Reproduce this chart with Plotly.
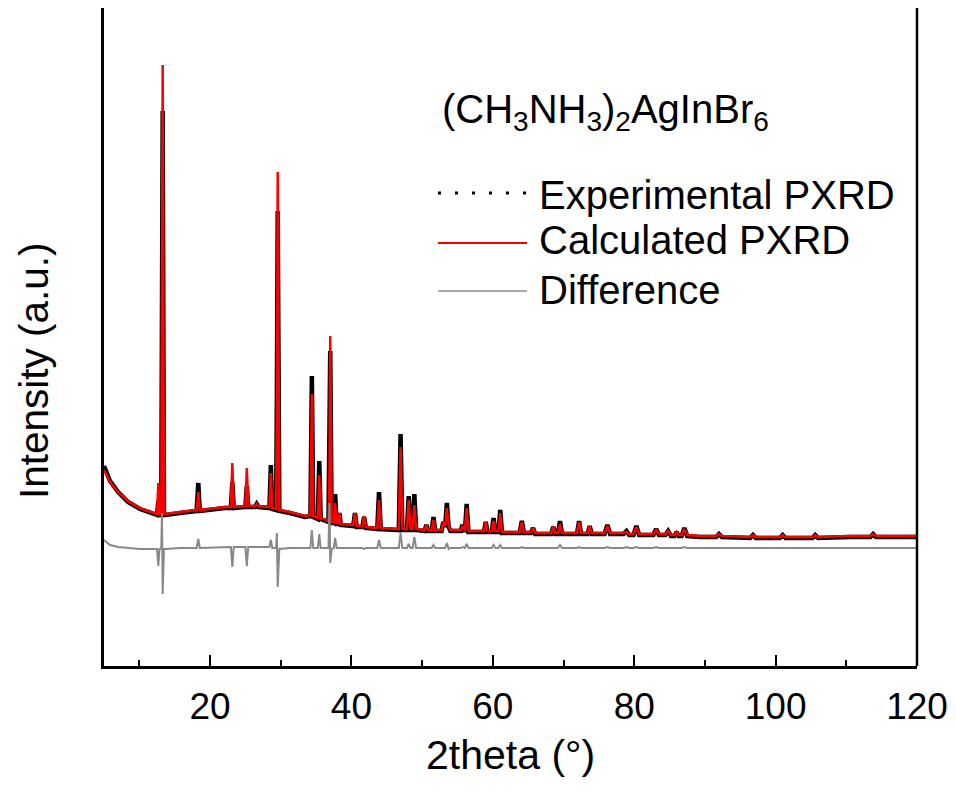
import plotly.graph_objects as go

# PXRD of (CH3NH3)2AgInBr6 (arbitrary units)
two_theta = [
    5.0, 5.85, 7.0, 8.4, 10.1, 11.9, 12.5,
    12.68, 12.85, 13.1, 13.2, 13.3, 13.48, 13.7, 15.75,
    18.1, 18.34, 18.55, 22.1, 22.95, 23.15, 23.35,
    25.0, 25.2, 25.4, 26.35, 26.6, 26.85,
    28.4, 28.6, 28.8, 29.35, 29.45, 29.57, 29.8, 31.3, 33.4,
    34.2, 34.4, 34.6, 35.25, 35.45, 35.65,
    36.75, 36.9, 37.0, 37.2, 37.5, 37.7, 37.9, 38.1, 38.3, 38.5,
    40.25, 40.5, 40.75, 41.55, 41.8, 42.05, 43.65, 43.9, 44.15,
    46.7, 46.95, 47.2, 47.85, 48.1, 48.35, 48.65, 48.9, 49.15,
    50.35, 50.6, 50.85, 51.35, 51.6, 51.85,
    52.75, 53.0, 53.25, 53.5, 53.75, 54.0,
    55.45, 55.7, 55.95, 56.05, 56.3, 56.55,
    58.75, 59.0, 59.25, 59.85, 60.1, 60.35, 60.8, 61.05, 61.3,
    63.8, 64.1, 64.4, 65.4, 65.7, 66.0,
    68.25, 68.55, 68.85, 69.2, 69.5, 69.8,
    71.9, 72.2, 72.5, 73.4, 73.7, 74.0, 75.8, 76.2, 76.6,
    78.5, 78.9, 79.3, 79.9, 80.3, 80.7, 82.7, 83.1, 83.5,
    84.4, 84.8, 85.2, 85.7, 86.0, 86.3, 86.7, 87.1, 87.5,
    89.3, 91.6, 92.0, 92.4, 96.4, 96.8, 97.2,
    100.6, 101.0, 101.4, 103.4, 105.2, 105.6, 106.0,
    110.5, 113.4, 113.8, 114.2, 120.0,
]
calculated = [
    196, 184, 174, 165, 158, 153, 152,
    183, 152, 152, 300, 601, 152, 152, 154,
    156, 174, 156, 159, 159, 203, 159,
    160, 198, 160, 160, 162, 160,
    159, 193, 158, 157, 250, 494, 156, 154, 150,
    151, 272, 150, 148, 191, 148,
    145, 200, 330, 144, 144, 163, 143, 143, 153, 142,
    141, 153, 140, 140, 150, 139, 138, 166, 138,
    137, 219, 137, 137, 166, 137, 137, 161, 137,
    136, 141, 136, 136, 146, 136,
    136, 144, 140, 158, 140, 136,
    136, 140, 135, 135, 158, 135,
    135, 144, 135, 135, 145, 135, 135, 153, 134,
    134, 144, 134, 134, 138, 133,
    133, 139, 133, 133, 142, 133,
    133, 144, 133, 133, 140, 133, 133, 140, 133,
    133, 134, 132, 132, 139, 132, 132, 136, 132,
    132, 135, 131, 131, 134, 131, 131, 137, 131,
    130, 130, 132, 130, 129, 131, 129,
    129, 131, 129, 129, 129, 131, 129,
    130, 130, 132, 130, 130,
]
experimental = [
    200, 185, 174, 164, 157, 152, 151,
    165, 151, 151, 335, 555, 151, 151, 153,
    155, 183, 155, 158, 158, 184, 158,
    159, 180, 159, 159, 162, 159,
    158, 201, 157, 156, 265, 455, 155, 153, 149,
    150, 290, 149, 147, 205, 147,
    144, 245, 315, 143, 143, 172, 142, 142, 153, 141,
    140, 153, 139, 139, 149, 138, 137, 174, 137,
    136, 232, 136, 136, 170, 136, 136, 172, 136,
    135, 141, 135, 135, 149, 135,
    135, 144, 139, 163, 139, 135,
    135, 141, 134, 134, 162, 134,
    134, 144, 134, 134, 148, 134, 134, 156, 133,
    133, 145, 133, 133, 138, 132,
    132, 139, 132, 132, 145, 132,
    132, 145, 132, 132, 140, 132, 132, 141, 132,
    132, 135, 131, 131, 140, 131, 131, 137, 131,
    131, 135, 130, 130, 134, 130, 130, 138, 130,
    129, 129, 132, 129, 128, 131, 128,
    128, 131, 128, 128, 128, 131, 128,
    129, 129, 132, 129, 129,
]
difference = [
    126, 121, 119, 118, 117, 117, 117,
    100, 117, 117, 153, 72, 117, 117, 118,
    118, 127, 118, 119, 119, 99, 119,
    119, 100, 119, 119, 119, 119,
    119, 126, 118, 118, 133, 79, 117, 118, 118,
    118, 136, 118, 118, 132, 118,
    118, 163, 103, 117, 118, 128, 118, 118, 118, 118,
    118, 118, 118, 118, 117, 118, 118, 126, 118,
    118, 133, 118, 118, 122, 118, 118, 129, 118,
    118, 118, 118, 118, 121, 118,
    118, 118, 118, 123, 117, 118,
    118, 119, 118, 118, 122, 118,
    118, 118, 118, 118, 121, 118, 118, 121, 118,
    118, 119, 118, 118, 118, 118,
    118, 118, 118, 118, 121, 118,
    118, 119, 118, 118, 118, 118, 118, 119, 118,
    118, 119, 118, 118, 119, 118, 118, 119, 118,
    118, 118, 118, 118, 118, 118, 118, 119, 118,
    118, 118, 118, 118, 118, 118, 118,
    118, 118, 118, 118, 118, 118, 118,
    118, 118, 118, 118, 118,
]

font = "Liberation Sans, Arial, sans-serif"

fig = go.Figure()
fig.add_trace(go.Scatter(x=two_theta, y=experimental, mode='lines',
                         line=dict(color='black', width=4.5), showlegend=False))
fig.add_trace(go.Scatter(x=two_theta, y=calculated, mode='lines',
                         line=dict(color='#ff0000', width=2.5), showlegend=False))
fig.add_trace(go.Scatter(x=two_theta, y=difference, mode='lines',
                         line=dict(color='#888888', width=2), showlegend=False))

# hand-made legend, like the original
legend_items = [
    ("Experimental PXRD", 'black', "3px,14px", 3, 0.7188, 0.7158),
    ("Calculated PXRD", '#ff0000', 'solid', 2, 0.6429, 0.6474),
    ("Difference", '#8c8c8c', 'solid', 1.5, 0.5699, 0.5714),
]
for name, col, dash, w, yl, yt in legend_items:
    fig.add_shape(type='line', xref='paper', yref='paper', x0=0.4108, x1=0.5203,
                  y0=yl, y1=yl, line=dict(color=col, width=w, dash=dash))
    fig.add_annotation(text=name, xref='paper', yref='paper', x=0.5326, y=yt,
                       xanchor='left', yanchor='middle', showarrow=False,
                       font=dict(size=40, color='black', family=font))

fig.add_annotation(text="(CH<sub>3</sub>NH<sub>3</sub>)<sub>2</sub>AgInBr<sub>6</sub>",
                   xref='paper', yref='paper', x=0.4133, y=0.842, xanchor='left',
                   yanchor='middle', showarrow=False,
                   font=dict(size=40, color='black', family=font))

fig.add_annotation(text="2theta (°)", xref='paper', yref='paper', x=0.5, y=-0.1353,
                   xanchor='center', yanchor='middle', showarrow=False,
                   font=dict(size=41, color='black', family=font))
fig.add_annotation(text="Intensity (a.u.)", xref='paper', yref='paper', x=-0.0861, y=0.4483,
                   xanchor='center', yanchor='middle', textangle=-90, showarrow=False,
                   font=dict(size=40.5, color='black', family=font))

# right-hand frame line
fig.add_shape(type='line', xref='paper', yref='paper', x0=1, x1=1, y0=0, y1=1,
              line=dict(color='black', width=2.5))

fig.update_xaxes(range=[5, 120], tick0=0, dtick=20, ticks='inside', ticklen=11, tickwidth=2,
                 tickcolor='black', showline=True, linecolor='black', linewidth=2.5,
                 showgrid=False, zeroline=False, ticklabelstandoff=6,
                 minor=dict(dtick=10, ticks='inside', ticklen=6, tickwidth=2, tickcolor='black'),
                 tickfont=dict(size=37, color='black', family=font))
fig.update_yaxes(range=[0, 658], showticklabels=False, ticks='', showline=True,
                 linecolor='black', linewidth=2.5, showgrid=False, zeroline=False)

# the page body adds an 8px offset, so the figure is 8px smaller than the window
fig.update_layout(width=948, height=789, margin=dict(l=96, r=39, t=0, b=131),
                  plot_bgcolor='white', paper_bgcolor='white', showlegend=False)

fig.write_html("out.html")
